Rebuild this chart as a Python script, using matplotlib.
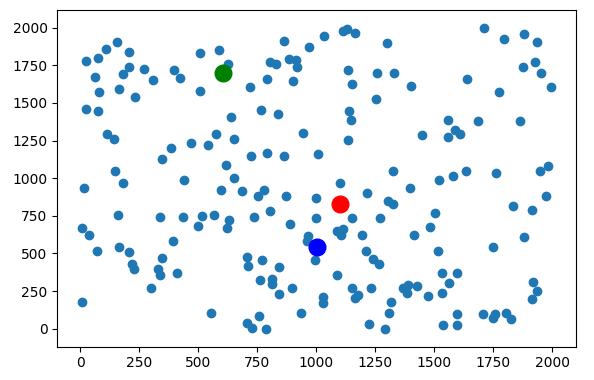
import numpy as np
from matplotlib import pyplot as plt

# scattered points
xs = [156, 108, 204, 22, 74, 204, 61, 182, 271, 309, 80, 165, 232, 22, 73, 397, 423, 508, 586, 508, 627, 640,
      863, 968, 1034, 1112, 1129, 1165, 1299, 804, 829, 886, 913, 917, 790, 902, 719, 1133, 1153, 1257, 1330,
      1252, 764, 836, 1140, 1147,
      1402, 1712, 1796, 1881, 1935, 1927, 1875, 1954, 1994, 1638, 1776, 1560, 1684, 1864,
      114, 142, 344, 384, 469, 542, 575, 617, 148, 179, 15, 440, 595, 652, 159, 337, 433, 515, 567, 500, 632,
      622, 8, 36,
      652, 942, 1133, 724, 791, 863, 1007, 1324, 686, 778, 754, 872, 1100, 1214, 1000, 1305, 1327, 737, 804,
      1000, 1153, 1270, 888, 1086, 1112, 1105, 1195,
      1448, 1560, 1588, 1609, 1397, 1520, 1581, 1634, 1763, 1949, 1984, 1974, 1836, 1915, 1503, 1482, 1416, 1882,
      69, 165, 204, 217, 227, 344, 330, 337, 391, 408, 298, 8, 553,
      966, 959, 995, 1211, 1242, 1265, 705, 712, 771, 843, 761, 811, 811, 843, 896, 1087, 1153, 1178, 1164,
      1231, 1030, 1027, 935, 758, 705, 726, 785, 1225, 1291, 1317, 1310,
      1751, 1515, 1534, 1595, 1563, 1534, 1475, 1369, 1390, 1383, 1426, 1920, 1937, 1916, 1706, 1751, 1758,
      1805, 1825, 1595, 1595, 1539]
ys = [1903, 1858, 1840, 1778, 1800, 1740, 1673, 1691, 1725, 1651, 1571, 1593, 1540, 1458, 1447, 1718, 1663,
      1829, 1851, 1580, 1758, 1407,
      1913, 1873, 1945, 1978, 1989, 1963, 1896, 1773, 1758, 1789, 1785, 1736, 1656, 1647, 1603, 1718, 1625,
      1696, 1696, 1529, 1451, 1429, 1445, 1389,
      1613, 1996, 1923, 1956, 1903, 1769, 1740, 1696, 1603, 1656, 1573, 1389, 1378, 1378,
      1291, 1263, 1129, 1203, 1233, 1220, 1291, 1089, 1047, 967, 933, 985, 923, 1003, 756, 745, 745, 749, 758,
      685, 722, 668, 667, 623,
      1263, 1303, 1251, 1149, 1169, 1149, 1163, 1047, 913, 923, 880, 880, 967, 903, 869, 845, 829, 745, 780,
      736, 736, 736, 696, 651, 660, 622, 625,
      1285, 1273, 1318, 1291, 933, 985, 1013, 1047, 1036, 1047, 1078, 880, 818, 789, 767, 673, 623, 607,
      518, 540, 507, 429, 396, 469, 396, 358, 580, 373, 273, 180, 107,
      618, 580, 456, 518, 463, 430, 473, 418, 456, 407, 323, 329, 296, 233, 273, 356, 273, 225, 203,
      273, 207, 173, 107, 85, 40, 3, 0, 33, 0, 180, 107,
      540, 518, 373, 367, 303, 240, 218, 273, 291, 240, 285, 313, 251, 200, 96, 73, 96,
      107, 67, 96, 23, 23]

# highlighted points
green_pt = (606, 1696)
red_pt = (1100, 829)
blue_pt = (1002, 540)


if __name__ == '__main__':
    fig = plt.figure(figsize=(5.94, 3.8), dpi=100)
    ax = fig.add_axes([0.0965, 0.0876, 0.8727, 0.886])
    ax.scatter(np.array(xs), np.array(ys))
    ax.scatter(*green_pt, c='green', s=144)
    ax.scatter(*red_pt, c='red', s=144)
    ax.scatter(*blue_pt, c='blue', s=144)
    ax.set_xlim(-98, 2100)
    ax.set_ylim(-120, 2117)
    fig.savefig('out.png', dpi=100)
